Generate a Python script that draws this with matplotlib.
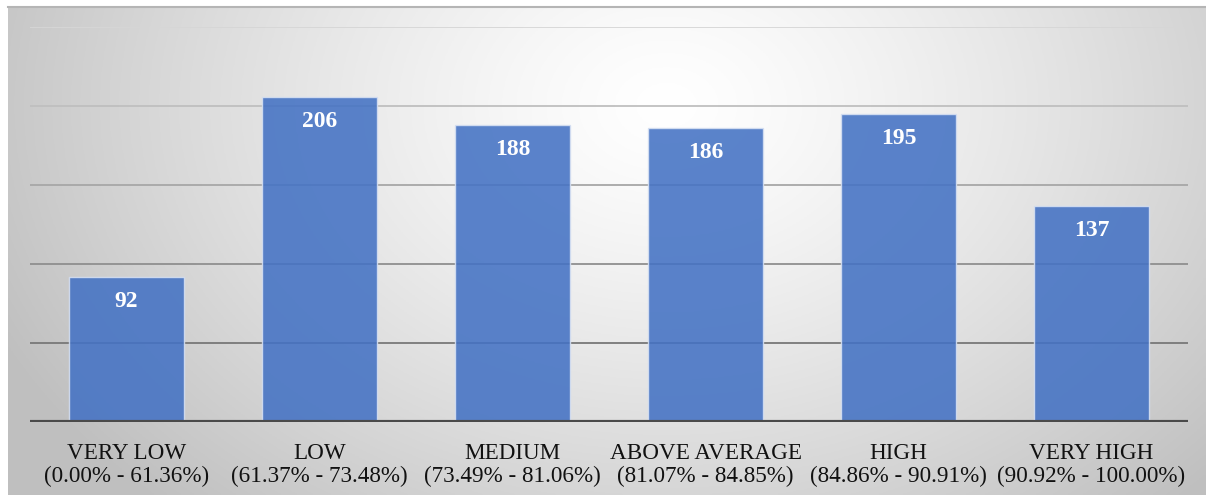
import numpy as np
import matplotlib
matplotlib.use("Agg")
import matplotlib.pyplot as plt
from matplotlib.lines import Line2D

categories = ["VERY LOW", "LOW", "MEDIUM", "ABOVE AVERAGE", "HIGH", "VERY HIGH"]
ranges = ["(0.00% - 61.36%)", "(61.37% - 73.48%)", "(73.49% - 81.06%)",
          "(81.07% - 84.85%)", "(84.86% - 90.91%)", "(90.92% - 100.00%)"]
values = [92, 206, 188, 186, 195, 137]
yticks = [0, 50, 100, 150, 200, 250]

W, H = 1206, 495
fig = plt.figure(figsize=(W / 100, H / 100), dpi=100)
fig.patch.set_facecolor("white")

# radial gradient background panel
bg = fig.add_axes([8 / W, 0, (W - 8) / W, (H - 7) / H], zorder=-10)
xx, yy = np.meshgrid(np.linspace(0, 1, 400), np.linspace(0, 1, 200))
cx, cy = 0.55, 0.8
d = np.sqrt(((xx - cx) * 1.0) ** 2 + ((yy - cy) * 0.55) ** 2)
d = np.clip(d / 0.62, 0, 1)
g = 1.0 - 0.25 * d ** 1.3
bg.imshow(np.dstack([g, g, g]), aspect="auto", origin="lower", extent=[0, 1, 0, 1])
bg.set_axis_off()
fig.add_artist(Line2D([8 / W, 1], [1 - 7 / H, 1 - 7 / H], color="#b5b5b5", lw=1.5))

ax = fig.add_axes([30 / W, 73 / H, (1188 - 30) / W, (422 - 27) / H])
ax.patch.set_alpha(0)
ax.set_xlim(-0.5, len(values) - 0.5)
ax.set_ylim(0, 250)
for s in ax.spines.values():
    s.set_visible(False)

# gridlines: darker near the bottom, lighter near the top
for t in yticks[1:]:
    f = (t - 50) / 200
    c = 0.47 + f * (0.84 - 0.47)
    ax.axhline(t, color=(c, c, c), lw=1.3, zorder=1)

x = np.arange(len(values))
bars = ax.bar(x, values, width=0.6, color="#4472C4", alpha=0.88,
              edgecolor="#d6e0f2", linewidth=1.0, zorder=2)
ax.axhline(0, color="#4a4a4a", lw=3.0, zorder=3)

for xi, v in zip(x, values):
    ax.annotate(str(v), (xi, v), xytext=(0, -30), textcoords="offset pixels",
                ha="center", va="baseline", color="white", fontsize=17,
                fontweight="bold", family="Liberation Serif", zorder=4)

ax.set_yticks([])
ax.set_xticks(x)
ax.set_xticklabels([f"{c}\n{r}" for c, r in zip(categories, ranges)],
                   family="Liberation Serif", fontsize=16.7, linespacing=1.12,
                   color="#111111")
ax.tick_params(axis="x", length=0, pad=15)

fig.savefig("out.png", dpi=100)
